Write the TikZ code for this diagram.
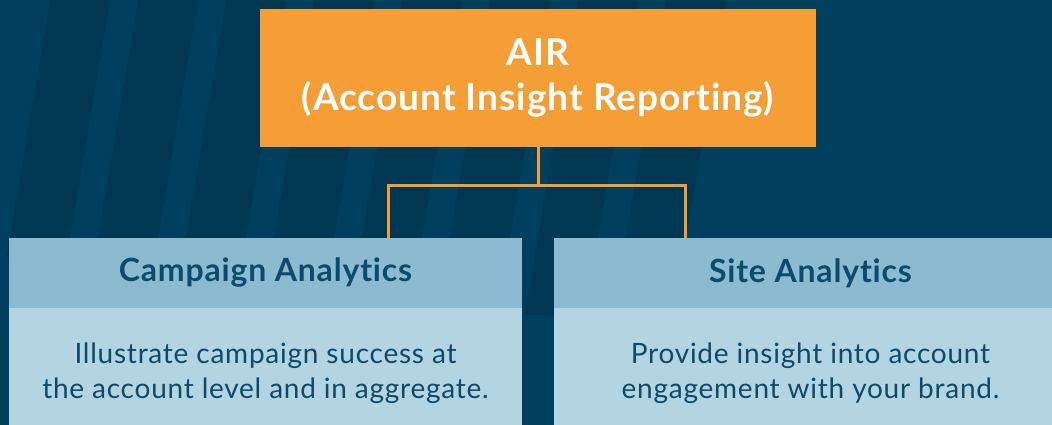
\documentclass[tikz,border=0pt]{standalone}
\usepackage{fontspec}
\setmainfont{Lato}
\newfontfamily\titlefont{Lato}[LetterSpace=2.7,Ligatures={NoCommon,NoContextual}]
\newfontfamily\headfont{Lato}[LetterSpace=2.5,Ligatures={NoCommon,NoContextual}]
\newfontfamily\bodyfont{Lato}[LetterSpace=2.7,Ligatures={NoCommon,NoContextual}]
\usepackage{tikz}
\usetikzlibrary{positioning,calc}

\definecolor{navy}{HTML}{003F5E}
\definecolor{navybar}{HTML}{003753}
\definecolor{airorange}{HTML}{F59E35}
\definecolor{headblue}{HTML}{8BBBD1}
\definecolor{bodyblue}{HTML}{B3D4E1}
\definecolor{inkblue}{HTML}{0D4A6B}

\begin{document}
\begin{tikzpicture}[
      x=1pt, y=1pt,
      top/.style={fill=airorange,minimum width=556pt,minimum height=138pt,inner sep=0pt,align=center,
        text=white,font=\titlefont\fontsize{37}{45}\selectfont\bfseries},
      head/.style={fill=headblue,minimum width=513pt,minimum height=70pt,inner sep=0pt,
        text=inkblue,font=\headfont\fontsize{32}{36}\selectfont\bfseries},
      body/.style={fill=bodyblue,minimum width=513pt,minimum height=130pt,inner sep=0pt,align=center,
        text=inkblue,font=\bodyfont\fontsize{28}{35.5}\selectfont},
      link/.style={draw=airorange,line width=3pt},
    ]
    \clip (0,0) rectangle (1052,425);
    \fill[navy] (0,0) rectangle (1052,425);

    % faint chart bars in the background
    \foreach \x/\b in {8/218,96/210,184/200,272/190,360/180,448/170,536/160,624/150} {
      \fill[navybar,xslant=0.17] (\x-30,\b-50) rectangle (\x+30,425);
    }

    \node[top] (air) at (538,347) {AIR\\(Account Insight Reporting)};

    \node[head] (camp) at (265.5,152) {Campaign Analytics};
    \node[body] (campbody) at (265.5,52) {Illustrate campaign success at\\the account level and in aggregate.};
    \node[head] (site) at (810.5,152) {Site Analytics};
    \node[body] (sitebody) at (810.5,52) {Provide insight into account\\engagement with your brand.};

    \coordinate (fork) at ($(air.south)+(0,-38)$);
    \coordinate (lft) at ($(camp.north west)+(380,0)$);
    \coordinate (rgt) at ($(site.north west)+(132,0)$);
    \draw[link] (air.south) -- (fork);
    \draw[link] (lft) |- (fork) -| (rgt);
  \end{tikzpicture}
\end{document}
